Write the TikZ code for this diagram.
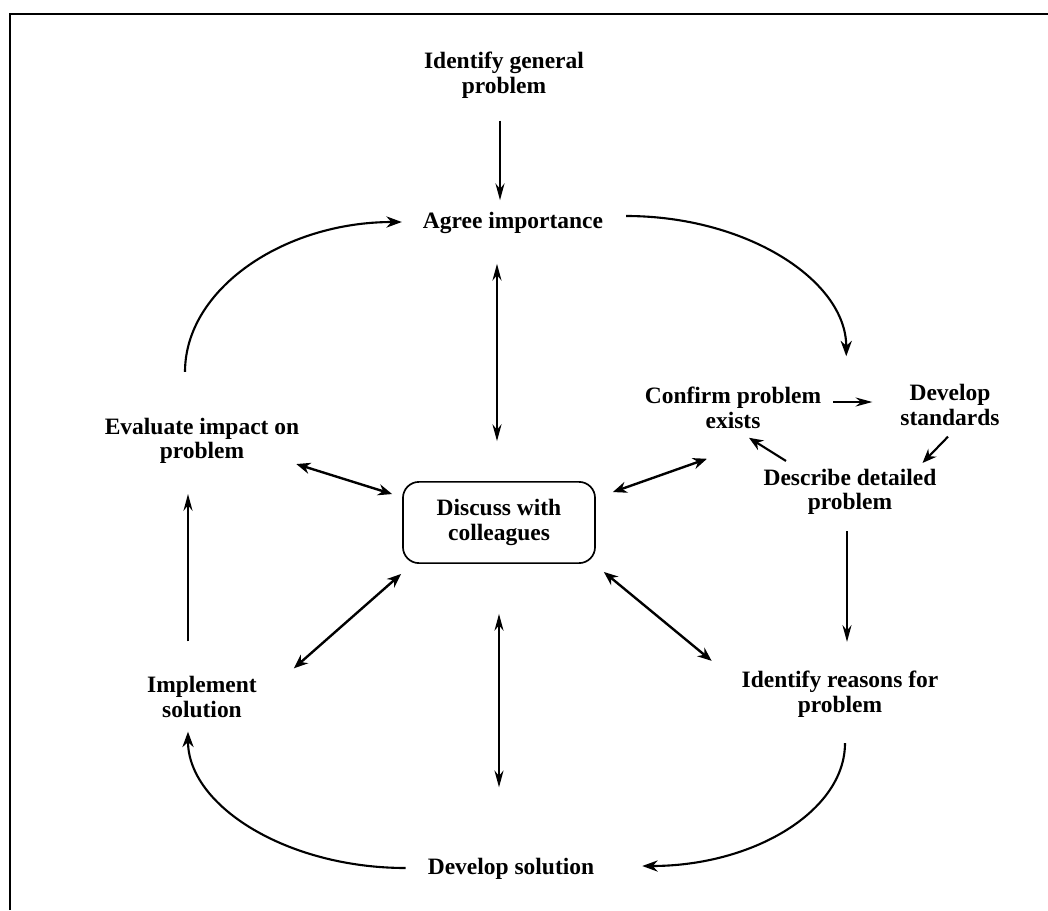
\documentclass[tikz,border=0pt]{standalone}
\usepackage{fontspec}
\setmainfont{Liberation Serif}
\usetikzlibrary{arrows.meta}

\tikzset{
  lbl/.style={font=\bfseries\fontsize{16.7pt}{17.5pt}\selectfont, align=center, inner sep=2pt},
  thinarr/.style={line width=1pt, -{Stealth[length=12pt,width=6.5pt,inset=4pt]}},
  thickarr/.style={line width=1.7pt, {Stealth[length=10pt,width=8pt]}-{Stealth[length=10pt,width=8pt]}},
  looparr/.style={line width=1.5pt, -{Stealth[length=11pt,width=8pt]}},
}

\begin{document}
\begin{tikzpicture}[x=0.025cm, y=-0.025cm]
    \useasboundingbox (0,0) rectangle (1048,910);
    % Frame
    \draw[line width=1.2pt] (10,910) |- (1048,14);

    % Steps
    \node[lbl] (gen) at (504,75.5) {Identify general\\problem};
    \node[lbl] (agree) at (513,223) {Agree importance};
    \node[lbl] (conf) at (733,408) {Confirm problem\\exists};
    \node[lbl] (stds) at (950,405) {Develop\\standards};
    \node[lbl] (desc) at (850,492) {Describe detailed\\problem};
    \node[lbl] (reas) at (840,694) {Identify reasons for\\problem};
    \node[lbl] (dsol) at (511,869) {Develop solution};
    \node[lbl] (impl) at (202,697) {Implement\\solution};
    \node[lbl] (eval) at (202,441) {Evaluate impact on\\problem};
    \node[lbl, draw, line width=1.2pt, rounded corners=0.4cm, minimum width=4.8cm, minimum height=2.03cm] (disc) at (499,522.5) {Discuss with\\colleagues};

    % Main cycle
    \draw[thinarr] ([shift={(-4,19)}]gen.south) -- ([shift={(-13,-9)}]agree.north);
    \draw[looparr] ([shift={(20,-7)}]agree.east) .. controls +(120,0) and +(0,-76) .. ([shift={(22,-28)}]conf.north east);
    \draw[thinarr] ([shift={(9,-6)}]conf.east) -- ([shift={(-25,-3)}]stds.west);
    \draw[line width=1.5pt, -{Stealth[length=10pt,width=8pt]}] ([shift={(-2,8)}]stds.south) -- ([shift={(-17,-3)}]desc.north east);
    \draw[line width=1.5pt, -{Stealth[length=10pt,width=8pt]}] ([shift={(-64,-5)}]desc.north) -- ([shift={(16,6)}]conf.south);
    \draw[thinarr] ([shift={(-3,13)}]desc.south) -- ([shift={(7,-26)}]reas.north);
    \draw[looparr] ([shift={(5,23)}]reas.south) .. controls +(0,68) and +(111,0) .. ([shift={(45,-3)}]dsol.east);
    \draw[looparr] ([shift={(-19,-1)}]dsol.west) .. controls +(-119,0) and +(0,74) .. ([shift={(-14,11)}]impl.south);
    \draw[thinarr] ([shift={(-14,-32)}]impl.north) -- ([shift={(-14,27)}]eval.south);
    \draw[looparr] ([shift={(-17,-43)}]eval.north) .. controls +(0,-83) and +(-118,0) .. ([shift={(-18,-1)}]agree.west);

    % Links to colleagues
    \draw[thinarr, <->, >={Stealth[length=12pt,width=6.5pt,inset=4pt]}] ([shift={(-16,27)}]agree.south) -- ([shift={(-2,-40)}]disc.north);
    \draw[thinarr, <->, >={Stealth[length=12pt,width=6.5pt,inset=4pt]}] ([shift={(0,50)}]disc.south) -- ([shift={(-12,-68)}]dsol.north);
    \draw[thickarr] ([shift={(-6,-3)}]eval.south east) -- ([shift={(-10,13)}]disc.north west);
    \draw[thickarr] ([shift={(17,11)}]disc.north east) -- ([shift={(-26,27)}]conf.south);
    \draw[thickarr] ([shift={(8,8)}]disc.south east) -- ([shift={(-27,-7)}]reas.north west);
    \draw[thickarr] ([shift={(-1,10)}]disc.south west) -- ([shift={(34,-5)}]impl.north east);
\end{tikzpicture}
\end{document}
